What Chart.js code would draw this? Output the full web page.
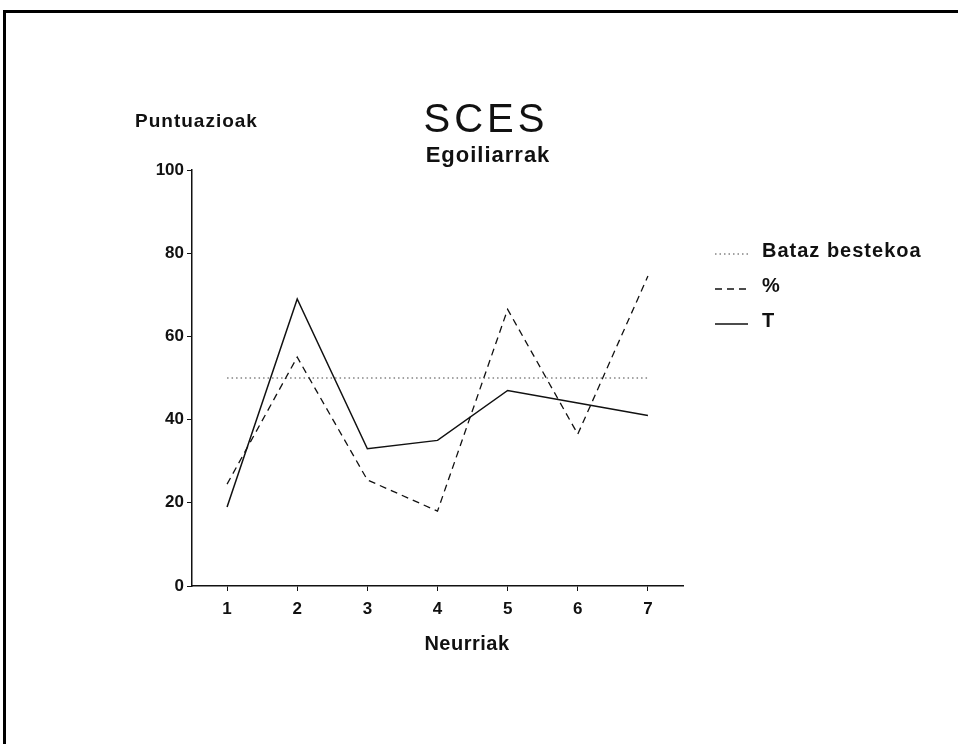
<!DOCTYPE html>
<html>
<head>
<meta charset="utf-8">
<script src="https://cdn.jsdelivr.net/npm/chart.js@4"></script>
<style>
  html, body { margin: 0; padding: 0; background: #fff; }
  body { width: 958px; height: 744px; position: relative; overflow: hidden; }
  .frame { position: absolute; left: 3px; top: 10px; width: 1000px; height: 800px;
           border-top: 3px solid #000; border-left: 3px solid #000; }
  #chart { position: absolute; left: 0; top: 0; }
</style>
</head>
<body>
<div class="frame"></div>
<canvas id="chart" width="958" height="744"></canvas>
<script>
const neurriak = ['1', '2', '3', '4', '5', '6', '7'];
const batazBestekoa = [50, 50, 50, 50, 50, 50, 50];
const ehunekoa = [24.5, 55, 25.5, 18, 66.5, 36.5, 74.5];
const tPuntuazioa = [19, 69, 33, 35, 47, 44, 41];
const yTicks = [0, 20, 40, 60, 80, 100];

const FONT = "'Liberation Sans', Arial, Helvetica, sans-serif";

function drawText(ctx, text, x, y, size, bold, align, spacing) {
  ctx.save();
  ctx.font = (bold ? 'bold ' : '') + size + 'px ' + FONT;
  ctx.fillStyle = '#111';
  ctx.textBaseline = 'alphabetic';
  if ('letterSpacing' in ctx) ctx.letterSpacing = (spacing || 0) + 'px';
  let w = ctx.measureText(text).width;
  let left = x;
  if (align === 'center') left = x - w / 2;
  ctx.textAlign = 'left';
  ctx.fillText(text, left, y);
  ctx.restore();
}

// titles, horizontal y title and the side legend
const textsPlugin = {
  id: 'texts',
  afterDraw(chart) {
    const ctx = chart.ctx;
    drawText(ctx, 'SCES', 486, 132, 40, false, 'center', 4);
    drawText(ctx, 'Egoiliarrak', 488, 162, 22, true, 'center', 1);
    drawText(ctx, 'Puntuazioak', 135, 127, 19, true, 'left', 1);
    drawText(ctx, 'Neurriak', 467, 650, 20, true, 'center', 0.5);

    const rows = [257, 292, 327];
    chart.data.datasets.forEach((ds, i) => {
      const y = rows[i];
      ctx.save();
      ctx.strokeStyle = ds.borderColor;
      ctx.lineWidth = ds.borderWidth;
      ctx.setLineDash(ds.borderDash || []);
      ctx.beginPath();
      ctx.moveTo(715, y - 3);
      ctx.lineTo(748, y - 3);
      ctx.stroke();
      ctx.restore();
      drawText(ctx, ds.label, 762, y, 20, true, 'left', 1);
    });
  }
};

new Chart(document.getElementById('chart'), {
  type: 'line',
  data: {
    labels: neurriak,
    datasets: [{
      label: 'Bataz bestekoa',
      data: batazBestekoa,
      borderColor: '#444',
      borderWidth: 1,
      borderDash: [1.5, 3],
      pointRadius: 0
    }, {
      label: '%',
      data: ehunekoa,
      borderColor: '#111',
      borderWidth: 1.3,
      borderDash: [7, 5],
      pointRadius: 0
    }, {
      label: 'T',
      data: tPuntuazioa,
      borderColor: '#111',
      borderWidth: 1.5,
      pointRadius: 0
    }]
  },
  options: {
    responsive: false,
    animation: false,
    layout: { padding: { top: 170, right: 275, left: 0, bottom: 0 } },
    scales: {
      x: {
        type: 'category',
        offset: true,
        grid: { drawOnChartArea: false, drawTicks: true, tickLength: 5, color: '#111' },
        border: { display: true, color: '#111', width: 1.5 },
        ticks: { color: '#111', padding: 8, font: { family: FONT, size: 17, weight: 'bold' } },
        afterFit(scale) { scale.height = 158; }
      },
      y: {
        min: 0,
        max: 100,
        grid: { drawOnChartArea: false, drawTicks: true, tickLength: 5, color: '#111' },
        border: { display: true, color: '#111', width: 1.5 },
        ticks: { color: '#111', padding: 3, font: { family: FONT, size: 17, weight: 'bold' } },
        afterBuildTicks(scale) { scale.ticks = yTicks.map(v => ({ value: v })); },
        afterFit(scale) { scale.width = 192; }
      }
    },
    plugins: {
      legend: { display: false },
      tooltip: { enabled: false }
    }
  },
  plugins: [textsPlugin]
});
</script>
</body>
</html>
